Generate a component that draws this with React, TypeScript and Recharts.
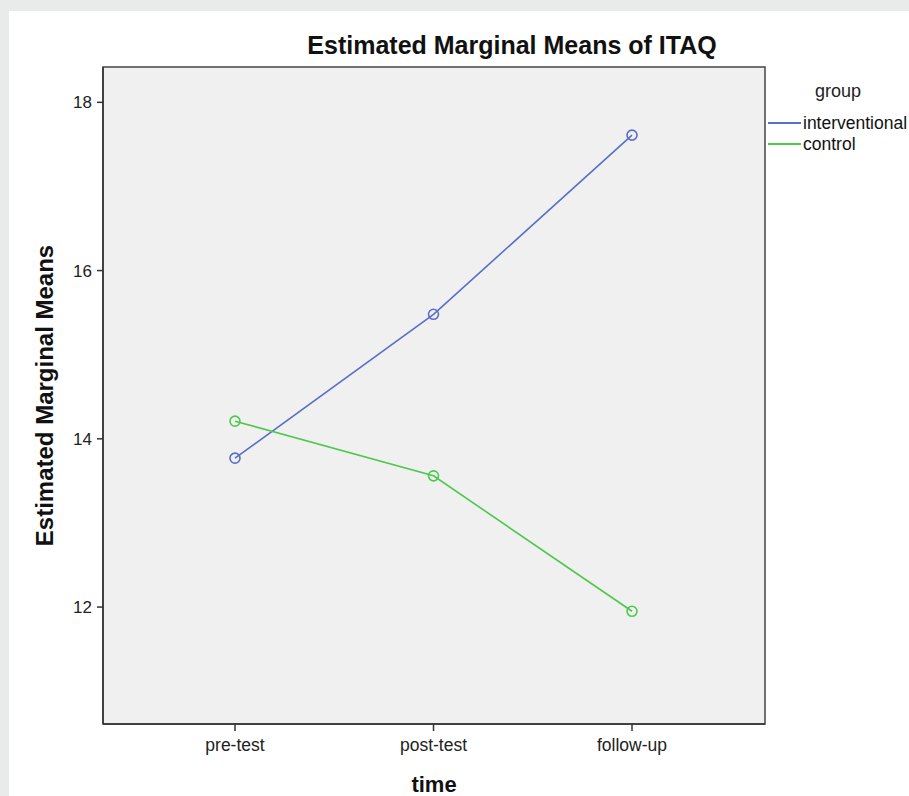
import React from 'react';
import {
  LineChart,
  Line,
  XAxis,
  YAxis,
  ReferenceArea,
} from 'recharts';

const timeLabels = ['pre-test', 'post-test', 'follow-up'];
const interventionalMeans = [13.77, 15.48, 17.61];
const controlMeans = [14.21, 13.56, 11.95];
const yTicks = [12, 14, 16, 18];
const seriesNames = ['interventional', 'control'];

const data = timeLabels.map((t, i) => ({
  idx: i,
  time: t,
  interventional: interventionalMeans[i],
  control: controlMeans[i],
}));

const FONT = 'Arial, "Liberation Sans", sans-serif';
const BLUE = '#5a6fc8';
const GREEN = '#4cc94c';
const seriesColors = [BLUE, GREEN];
const X_DOMAIN: [number, number] = [-0.665, 2.67];
const Y_DOMAIN: [number, number] = [10.61, 18.42];

const GroupLegend = () => (
  <div style={{ position: 'absolute', left: 765, top: 81, width: 144, height: 80, fontFamily: FONT }}>
    <div
      style={{
        position: 'absolute',
        left: 0,
        width: 146,
        top: 0,
        textAlign: 'center',
        fontSize: 18,
        color: '#222',
        lineHeight: '20px',
      }}
    >
      group
    </div>
    {seriesNames.map((name, i) => (
      <div key={name} style={{ position: 'absolute', left: 3, top: 32 + i * 21, height: 20 }}>
        <div
          style={{
            position: 'absolute',
            left: 0,
            top: 9,
            width: 33,
            height: 2,
            background: seriesColors[i],
          }}
        />
        <div
          style={{
            position: 'absolute',
            left: 35,
            top: 0,
            fontSize: 17.5,
            lineHeight: '20px',
            color: '#111',
            whiteSpace: 'nowrap',
          }}
        >
          {name}
        </div>
      </div>
    ))}
  </div>
);

export default function App() {
  return (
    <div
      style={{
        position: 'absolute',
        left: 0,
        top: 0,
        width: 909,
        height: 796,
        background: '#e9ebea',
        overflow: 'hidden',
      }}
    >
      <div
        style={{
          position: 'absolute',
          left: 9,
          top: 11,
          width: 900,
          height: 785,
          background: '#ffffff',
        }}
      />
      <div
        style={{
          position: 'absolute',
          left: 0,
          top: 33,
          width: 1024,
          textAlign: 'center',
          fontFamily: FONT,
          fontWeight: 'bold',
          fontSize: 25,
          lineHeight: '24px',
          color: '#111',
        }}
      >
        Estimated Marginal Means of ITAQ
      </div>
      <div style={{ position: 'absolute', left: 0, top: 0 }}>
        <LineChart
          width={909}
          height={796}
          data={data}
          margin={{ top: 67, right: 144, bottom: 2, left: 0 }}
        >
          <XAxis
            type="number"
            dataKey="idx"
            domain={X_DOMAIN}
            ticks={[0, 1, 2]}
            tickFormatter={(v: number) => timeLabels[v] ?? ''}
            allowDataOverflow
            height={70}
            tickSize={7}
            tickMargin={8}
            axisLine={{ stroke: '#333', strokeWidth: 1.5 }}
            tickLine={{ stroke: '#333', strokeWidth: 1.5 }}
            tick={{ fill: '#222', fontSize: 17.5, fontFamily: FONT }}
            label={{
              value: 'time',
              position: 'insideBottom',
              offset: 2,
              style: { fontFamily: FONT, fontWeight: 'bold', fontSize: 22, fill: '#111' },
            }}
          />
          <YAxis
            type="number"
            domain={Y_DOMAIN}
            ticks={yTicks}
            allowDataOverflow
            width={103}
            tickSize={6}
            tickMargin={5}
            axisLine={{ stroke: '#333', strokeWidth: 1.5 }}
            tickLine={{ stroke: '#333', strokeWidth: 1.5 }}
            tick={{ fill: '#222', fontSize: 17, fontFamily: FONT }}
            label={{
              value: 'Estimated Marginal Means',
              angle: -90,
              position: 'insideLeft',
              offset: 44,
              style: {
                textAnchor: 'middle',
                fontFamily: FONT,
                fontWeight: 'bold',
                fontSize: 24,
                fill: '#111',
              },
            }}
          />
          <ReferenceArea
            x1={X_DOMAIN[0]}
            x2={X_DOMAIN[1]}
            y1={Y_DOMAIN[0]}
            y2={Y_DOMAIN[1]}
            fill="#f0f0f0"
            fillOpacity={1}
            stroke="#444"
            strokeWidth={1.5}
            ifOverflow="visible"
          />
          <Line
            type="linear"
            dataKey="interventional"
            name={seriesNames[0]}
            stroke={BLUE}
            strokeWidth={1.6}
            dot={{ r: 5, fill: 'none', stroke: BLUE, strokeWidth: 1.6 }}
            activeDot={false}
            isAnimationActive={false}
          />
          <Line
            type="linear"
            dataKey="control"
            name={seriesNames[1]}
            stroke={GREEN}
            strokeWidth={1.6}
            dot={{ r: 5, fill: 'none', stroke: GREEN, strokeWidth: 1.6 }}
            activeDot={false}
            isAnimationActive={false}
          />
        </LineChart>
      </div>
      <GroupLegend />
    </div>
  );
}
